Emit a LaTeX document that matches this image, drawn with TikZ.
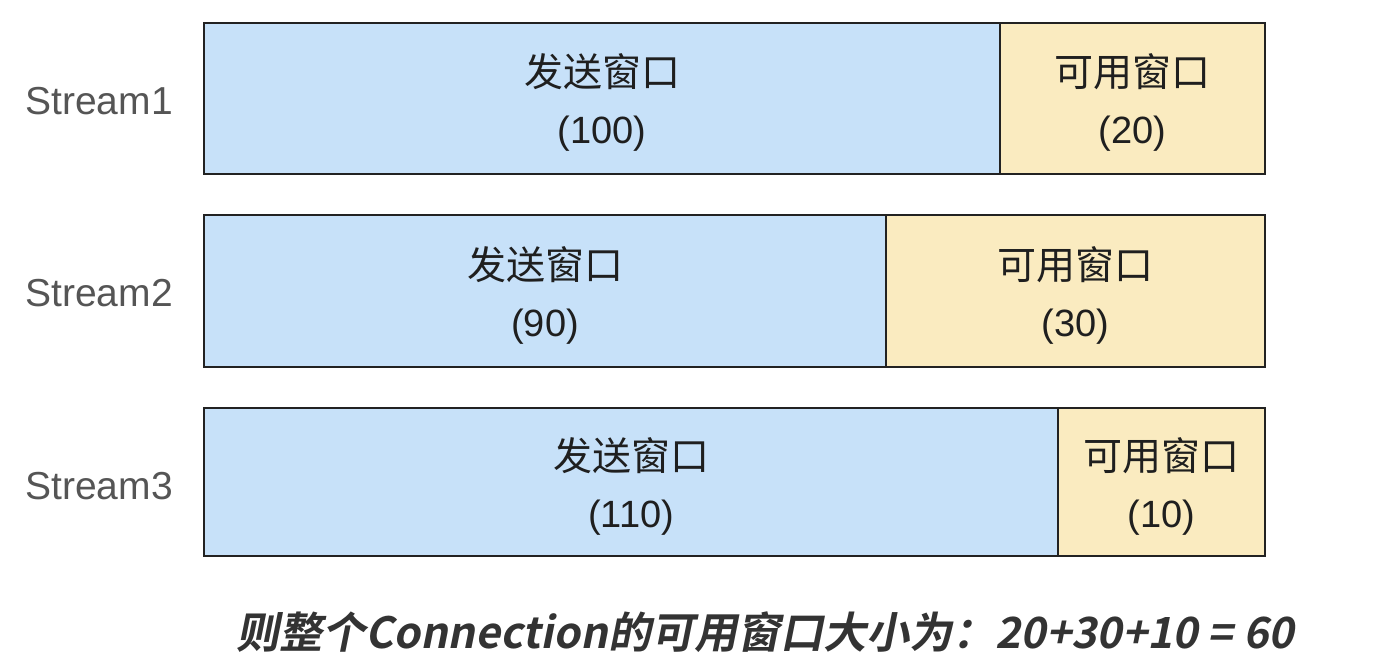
\documentclass[tikz,border=0pt]{standalone}
\usepackage{fontspec}
\setmainfont{Noto Sans CJK SC}
\newfontfamily\labfont{Liberation Sans}
\newfontfamily\botfont[FakeSlant=0.2,BoldFont={Noto Sans CJK SC Bold}]{Noto Sans CJK SC}
\definecolor{sendblue}{HTML}{C7E1F9}
\definecolor{availyellow}{HTML}{FAEBC0}
\definecolor{edge}{HTML}{222222}
\definecolor{labgray}{HTML}{555555}
\definecolor{bottext}{HTML}{333333}
\newcommand{\numtxt}[1]{{\labfont\fontsize{19}{28.5}\selectfont #1}}
\begin{document}
\begin{tikzpicture}[x=0.5pt,y=-0.5pt,
  win/.style={draw=edge,line width=1pt,inner sep=0pt},
  sendwin/.style={win,fill=sendblue},
  availwin/.style={win,fill=availyellow},
  wintext/.style={inner sep=0pt,align=center,font=\fontsize{19.5}{28.5}\selectfont,text=black!88},
  streamlab/.style={anchor=west,inner sep=0pt,text=labgray,font=\labfont\fontsize{19.5}{22}\selectfont}]
\useasboundingbox (0,0) rectangle (1380,668);
% Stream 1
\node[sendwin,minimum width=398pt,minimum height=75.5pt] (s1) at (602,98.5) {};
\node[availwin,minimum width=132.5pt,minimum height=75.5pt] (a1) at (1132.5,98.5) {};
% Stream 2
\node[sendwin,minimum width=341pt,minimum height=76pt] (s2) at (545,291) {};
\node[availwin,minimum width=189.5pt,minimum height=76pt] (a2) at (1075.5,291) {};
% Stream 3
\node[sendwin,minimum width=427pt,minimum height=74pt] (s3) at (631,482) {};
\node[availwin,minimum width=103.5pt,minimum height=74pt] (a3) at (1161.5,482) {};
% box texts
\node[wintext] (ts1) at ([yshift=-2pt]s1.center) {发送窗口\\\numtxt{(100)}};
\node[wintext] (ta1) at ([yshift=-2pt]a1.center) {可用窗口\\\numtxt{(20)}};
\node[wintext] (ts2) at ([yshift=-2pt]s2.center) {发送窗口\\\numtxt{(90)}};
\node[wintext] (ta2) at ([yshift=-2pt]a2.center) {可用窗口\\\numtxt{(30)}};
\node[wintext] (ts3) at ([yshift=-2pt]s3.center) {发送窗口\\\numtxt{(110)}};
\node[wintext] (ta3) at ([yshift=-2pt]a3.center) {可用窗口\\\numtxt{(10)}};
% labels
\node[streamlab] (l1) at (25,101) {Stream1};
\node[streamlab] (l2) at (25,293) {Stream2};
\node[streamlab] (l3) at (25,486) {Stream3};
% bottom text
\node[inner sep=0pt,text=bottext,font=\botfont\bfseries\fontsize{21.5}{24}\selectfont] (sum) at (765,632) {则整个Connection的可用窗口大小为：20+30+10 = 60};
\end{tikzpicture}
\end{document}
